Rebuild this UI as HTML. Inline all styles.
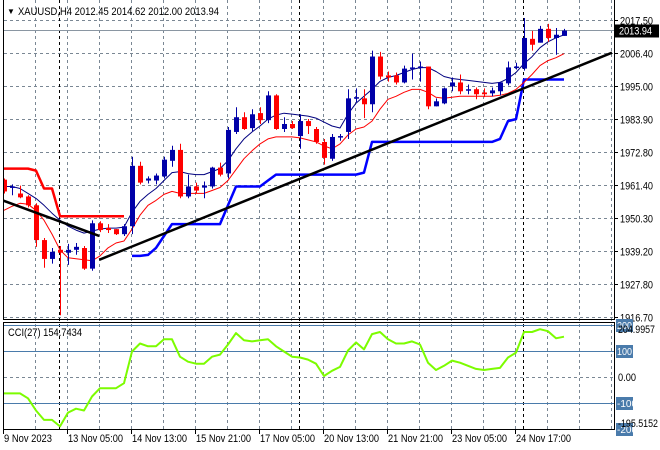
<!DOCTYPE html>
<html><head><meta charset="utf-8"><style>
html,body{margin:0;padding:0;background:#fff;}
svg{display:block;font-family:"Liberation Sans",sans-serif;}
</style></head><body>
<svg id="chart" width="660" height="450" viewBox="0 0 660 450" xmlns="http://www.w3.org/2000/svg">
<rect x="0" y="0" width="660" height="450" fill="#fff"/>
<g id="grid"></g>
<g id="marks"></g>
<g id="cci"></g>
<g id="axes"></g>
<text x="7" y="14" font-size="8" fill="#000">▼</text>
<text x="18" y="15" font-size="11" fill="#000" textLength="201" lengthAdjust="spacingAndGlyphs">XAUUSD,H4  2012.45 2014.62 2012.00 2013.94</text>
</svg>
<script>
const opens=[1963.3,1960.6,1958.6,1957.6,1954.6,1942.8,1936.4,1939.5,1938.5,1939.5,1940.1,1933.1,1948.5,1946.9,1946.5,1944.8,1947.5,1968.0,1963.0,1963.0,1964.4,1969.7,1973.4,1957.6,1961.0,1960.6,1961.0,1967.4,1965.4,1979.5,1984.5,1980.8,1985.9,1983.5,1991.9,1980.5,1982.2,1978.1,1983.2,1980.5,1976.1,1970.4,1977.8,1979.5,1990.9,1990.9,1988.9,2005.1,1998.7,1998.7,1996.3,2001.0,2001.4,2001.7,1988.2,1989.2,1995.0,1996.3,1993.6,1994.0,1992.9,1992.6,1993.3,1996.0,2001.4,2001.0,2011.1,2009.8,2014.5,2011.4,2012.1];
const highs=[1963.7,1961.7,1961.3,1958.0,1955.3,1943.5,1940.1,1940.8,1941.5,1941.8,1940.8,1949.5,1949.2,1948.2,1946.5,1948.2,1971.1,1969.4,1964.4,1965.4,1971.1,1974.8,1975.5,1965.0,1962.3,1962.7,1967.7,1969.1,1981.2,1987.9,1986.2,1987.2,1987.9,1993.3,1992.3,1984.5,1983.2,1985.5,1983.9,1981.2,1977.1,1978.8,1978.8,1994.0,1994.3,1994.0,2007.1,2006.7,2000.0,1999.7,2002.0,2006.1,2003.4,2001.7,1990.9,1994.6,1998.0,1999.0,1995.6,1994.6,1994.3,1994.6,1996.6,2003.4,2003.0,2018.2,2013.8,2015.5,2016.2,2014.8,2014.5];
const lows=[1958.6,1958.0,1957.0,1953.9,1940.5,1933.4,1934.8,1917.3,1934.4,1937.8,1932.7,1932.4,1945.5,1945.2,1944.5,1944.2,1944.8,1961.7,1962.0,1961.7,1963.7,1967.7,1957.0,1957.0,1958.6,1957.0,1960.3,1964.4,1963.7,1978.8,1980.2,1979.8,1982.2,1982.5,1980.2,1979.5,1980.5,1973.8,1978.8,1975.5,1968.4,1969.7,1976.5,1977.1,1989.6,1984.2,1986.2,1997.3,1996.6,1995.6,1996.0,1997.3,1996.6,1987.2,1988.2,1988.9,1993.3,1992.3,1992.3,1990.6,1991.3,1991.6,1991.9,1995.3,2000.7,2000.3,2007.1,2009.8,2010.1,2005.7,2012.1];
const closes=[1959.3,1961.0,1957.3,1954.6,1942.8,1936.4,1938.8,1938.5,1939.5,1940.5,1933.1,1948.5,1946.2,1946.2,1944.8,1947.5,1968.0,1962.3,1963.7,1964.7,1970.1,1973.4,1957.6,1961.0,1959.6,1961.3,1967.4,1965.0,1980.2,1984.5,1980.5,1985.5,1983.5,1991.9,1980.5,1982.2,1980.8,1983.2,1981.5,1976.1,1970.7,1977.8,1978.1,1990.9,1991.3,1988.9,2005.1,1998.3,1998.0,1996.3,2001.0,2001.4,2001.7,1988.2,1989.9,1994.3,1996.3,1993.3,1994.0,1992.3,1992.3,1993.6,1996.3,2001.4,2001.7,2011.4,2009.1,2014.5,2011.4,2012.5,2013.9];
const maFastY=[188,188,190,195,200,207,215,222,228,232,235,233,231,230,230,229,214,203,196,190,182,174,173,175,176,176,173,170,162,150,140,133,127,120,116,114,115,116,117,119,123,127,129,115,104,97,90,82,78,76,73,70,68,68,72,77,79,80,81,82,83,84,83,79,73,64,57,48,42,38,35];
const maSlowY=[212,208,205,206,212,222,236,252,260,261,262,263,258,250,245,243,231,217,207,202,196,193,195,195,195,195,192,189,182,171,160,152,145,140,138,138,138,139,141,143,147,150,145,136,130,128,122,110,100,97,93,90,90,93,98,99,98,97,97,97,97,97,96,94,90,83,75,66,61,58,54];
const stopRedY=[170,170,170,170,172,190,190,218,218,218,218,218,218,218,218,218];
const stopBlueStart=16;
const stopBlueY=[258,258,257,250,238,226,226,226,226,226,226,226,207,188,188,188,188,182,176,176,176,176,176,176,176,176,176,176,176,174,143,143,143,143,143,143,143,143,143,143,143,143,143,143,143,143,140,122,120,80,80,80,80,80,80];
const cciValues=[-63,-63,-63,-82,-129,-165,-165,-190,-137,-122,-129,-75,-43,-43,-43,-24,98,129,118,118,145,145,78,59,51,51,78,86,125,169,141,137,141,145,118,98,78,75,67,51,4,24,39,102,133,106,165,173,145,129,129,137,125,55,27,43,63,55,43,31,27,31,35,75,94,173,173,184,176,149,155];
const priceTicks=[2017.50,2006.40,1995.00,1983.90,1972.80,1961.40,1950.30,1939.20,1927.80,1916.70];
const trend1=[[-0.5,1956.6],[11.9,1944.2]];
const trend2=[[11.9,1936.1],[76,2006.4]];
const dateLabels=["9 Nov 2023","13 Nov 05:00","14 Nov 13:00","15 Nov 21:00","17 Nov 05:00","20 Nov 13:00","21 Nov 21:00","23 Nov 05:00","24 Nov 17:00"];
const dateIdx=[0,8,16,24,32,40,48,56,64];
const lastPrice=2013.94;
const cciLast="154.7434";

const NS="http://www.w3.org/2000/svg";
const X=i=>4+8*i;
const Y=p=>20+(2017.5-p)*2.946;
const pyToPrice=y=>2024.23-0.3364*y;
const CY=v=>377-v*0.26;
function mk(tag,attrs,parent){const e=document.createElementNS(NS,tag);for(const k in attrs)e.setAttribute(k,attrs[k]);parent.appendChild(e);return e;}
function fit(t,len){t.setAttribute('textLength',len);t.setAttribute('lengthAdjust','spacingAndGlyphs');}
const grid=document.getElementById('grid'),marks=document.getElementById('marks'),cci=document.getElementById('cci'),axes=document.getElementById('axes');

const defs=mk('defs',{},document.getElementById('chart'));
const cp=mk('clipPath',{id:'mainclip'},defs);mk('rect',{x:4,y:0,width:610,height:318},cp);
const cp2=mk('clipPath',{id:'cciclip'},defs);mk('rect',{x:4,y:322,width:610,height:107},cp2);
marks.setAttribute('clip-path','url(#mainclip)');

priceTicks.forEach(p=>{const y=Math.round(Y(p))+0.5;
 const l=mk('line',{x1:4,x2:614,y1:y,y2:y,stroke:'#7a8794','stroke-dasharray':'3,3','stroke-width':1},grid);
 
 
 const t=mk('text',{x:620,y:y+4,'font-size':11,fill:'#000'},axes);t.textContent=p.toFixed(2);fit(t,33);
 
 
 const tk=mk('line',{x1:614,x2:618,y1:y,y2:y,stroke:'#000'},axes);
 
 
});
for(let x=35;x<614;x+=32){
 const l=mk('line',{x1:x+0.5,x2:x+0.5,y1:0,y2:429,stroke:'#7a8794','stroke-dasharray':'3,3'},grid);
 
 
}
[7,37,65].forEach(i=>{const x=X(i)-0.5;
 const l=mk('line',{x1:x,x2:x,y1:0,y2:429,stroke:'#000','stroke-dasharray':'3,3'},grid);
 
 
});
[200,100,-100].forEach(v=>{const y=Math.round(CY(v))+0.5;
 const l=mk('line',{x1:4,x2:614,y1:y,y2:y,stroke:'#4a7bab'},cci);
 
 
});
{const y=Math.round(CY(0))+0.5;const l=mk('line',{x1:4,x2:614,y1:y,y2:y,stroke:'#7a8794','stroke-dasharray':'3,3'},cci);
 
 }

{const y=Math.round(Y(lastPrice))+0.5;const l=mk('line',{x1:4,x2:614,y1:y,y2:y,stroke:'#8a96a2'},grid);
 
 }

function poly(pts,stroke,w,name,parent){
 const p=mk('polyline',{points:pts.map(a=>a[0].toFixed(1)+','+a[1].toFixed(1)).join(' '),fill:'none',stroke:stroke,'stroke-width':w,'stroke-linejoin':'round'},parent);
 
 
 return p;
}
poly(stopRedY.map((y,i)=>[X(i),Y(pyToPrice(y))]),'#ff0000',2.5,'stop-line-red',marks);
poly(stopBlueY.map((y,i)=>[X(i+stopBlueStart),Y(pyToPrice(y))]),'#0000ff',2.5,'stop-line-blue',marks);
poly(maSlowY.map((y,i)=>[X(i),Y(pyToPrice(y))]),'#ff0000',1,'moving-average-slow',marks);
poly(maFastY.map((y,i)=>[X(i),Y(pyToPrice(y))]),'#000080',1,'moving-average-fast',marks);
closes.forEach((c,i)=>{
 const o=opens[i],h=highs[i],l=lows[i],x=X(i),up=c>=o,col=up?'#0000a8':'#ff0000';
 const w=mk('line',{x1:x+0.5,x2:x+0.5,y1:Y(h),y2:Y(l),stroke:col},marks);
 
 
 const top=Y(Math.max(o,c)),bot=Y(Math.min(o,c));
 const b=mk('rect',{x:x-2,y:top,width:5,height:Math.max(1.5,bot-top),fill:col},marks);
 
 
});
[trend1,trend2].forEach(t=>{
 const l=mk('line',{x1:X(t[0][0]),y1:Y(t[0][1]),x2:X(t[1][0]),y2:Y(t[1][1]),stroke:'#000','stroke-width':2.5},marks);
 
 
});
const cl=poly(cciValues.map((v,i)=>[X(i),CY(v)]),'#7cfc00',2,'cci-line',cci);
cl.setAttribute('clip-path','url(#cciclip)');
{const t=mk('text',{x:8,y:336,'font-size':11,fill:'#000'},cci);t.textContent='CCI(27) '+cciLast;fit(t,74);
 
 }

[[3.5,0,3.5,319],[614.5,0,614.5,319],[3,319.5,615,319.5],[3.5,322,3.5,429],[614.5,322,614.5,429],[3,322.5,615,322.5],[3,429.5,615,429.5]].forEach(a=>{
 const l=mk('line',{x1:a[0],y1:a[1],x2:a[2],y2:a[3],stroke:'#000'},axes);
 
 
});
{const y=Y(lastPrice);const r=mk('rect',{x:615,y:y-6,width:44,height:13,fill:'#000'},axes);
 
 
 const t=mk('text',{x:619,y:y+4,'font-size':11,fill:'#fff'},axes);t.textContent=lastPrice.toFixed(2);fit(t,33);
 
 }
[[200,'200'],[100,'100'],[-100,'-100'],[-200,'-200']].forEach(([v,s])=>{const y=CY(v);
 const r=mk('rect',{x:616,y:y-6,width:17,height:13,fill:'#4a7bab'},axes);
 
 
 const t=mk('text',{x:617,y:y+4,'font-size':10.5,fill:'#fff'},axes);t.textContent=s;fit(t,s.length*5);
 
 
});
[['0.00',CY(0)+4,18],['204.9957',333,37],['-195.5152',427,40]].forEach(([s,y,w])=>{
 const t=mk('text',{x:618,y:y,'font-size':11,fill:'#000'},axes);t.textContent=s;fit(t,w);
 
 
});
dateLabels.forEach((s,k)=>{const x=k===0?3:X(dateIdx[k])-1;
 const t=mk('text',{x:x+1,y:442,'font-size':11,fill:'#000'},axes);t.textContent=s;fit(t,k===0?48:55);
 
 
 const tk=mk('line',{x1:x+0.5,x2:x+0.5,y1:430,y2:434,stroke:'#000'},axes);
 
 
});
</script>
</body></html>
